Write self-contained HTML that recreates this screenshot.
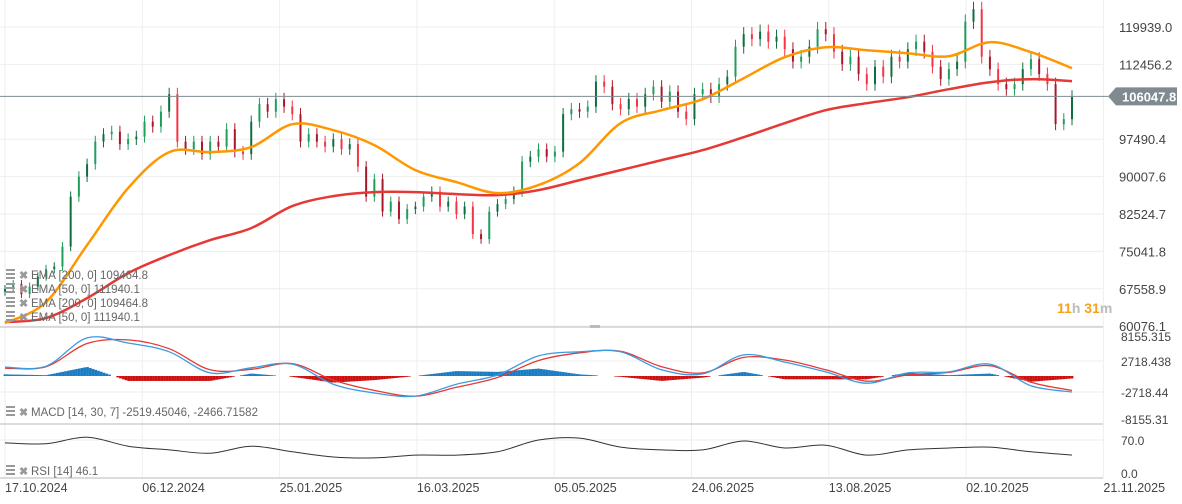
<!DOCTYPE html>
<html><head><meta charset="utf-8"><style>
body{margin:0;background:#fff;font-family:"Liberation Sans",sans-serif}
svg{display:block}
text{font-family:"Liberation Sans",sans-serif}
</style></head><body>
<svg id="c" width="1182" height="504"></svg>
<script>
const closes=[67.5,68.5,66.5,68,70,71.5,72,76,86,90,92.5,97,98.5,99,96.5,97.5,98,101,100,103,106.5,97,95.5,97,94.5,97,96,99.5,95,94.5,101,104.5,103,105.5,104,102.5,97,98.5,97,96,97.5,95.5,96.5,92,86,89.5,83,85,81.5,83.5,84,86,87,84,85,82.5,84,78.5,77.5,83,84.5,85.5,87,93,94,95.5,94,95,102.5,103.5,103,104,109,108,104.5,103.5,105.5,104,106.5,108,105,107,103,101.5,106.5,107.5,106,108.5,110,116,118.5,117.5,119,117,118,115.5,113,114,116,119.5,118.5,115,112.5,114,110.5,108.5,112,110,114,113,115.5,117,115,112,109.5,111.5,113,121,123.5,114,111.5,108.5,107.5,108.5,111.5,113.5,110.5,108.5,100.5,101.5,106];
const ema50=[60.7,64.9,76.3,87.7,94.9,94.9,95.9,100.5,99.3,96.3,91.3,88.9,86.7,88.3,92.7,100.7,103.3,105.5,109.7,113.9,115.9,115.3,114.7,114.1,116.9,114.9,111.7];
const ema200=[60.9,61.7,65.7,70.7,74.3,77.3,79.7,84.1,86.1,86.9,86.9,86.5,86.3,87.3,89.3,91.3,93.3,95.3,97.9,100.7,103.3,104.7,105.9,107.5,108.9,109.5,109.1];
const macd=[1.7,1.9,7.4,6.4,4.7,0.6,1.6,2.3,-1.6,-3.3,-3.9,-1.6,0.2,3.9,4.7,4.7,1.2,0.4,4.1,2.7,0.8,-1.4,0.6,0.8,2.3,-1.9,-3.1];
const signal=[1.5,1.8,6.3,7.0,5.3,1.2,1.3,2.4,-0.8,-2.8,-3.9,-2.2,-0.3,3.0,4.5,4.8,1.8,0.6,3.6,3.1,1.2,-1.0,0.2,0.7,2.0,-1.2,-2.8];
const rsi=[64,62,76,57,49,42,57,45,34,32,38,38,45,70,74,55,49,49,68,53,59,38,49,53,55,45,38];
const priceTicks=["119939.0","112456.2","97490.4","90007.6","82524.7","75041.8","67558.9","60076.1"];
const priceTickVals=[119.939,112.4562,97.4904,90.0076,82.5247,75.0418,67.5589,60.0761];
const dateLabels=["17.10.2024","06.12.2024","25.01.2025","16.03.2025","05.05.2025","24.06.2025","13.08.2025","02.10.2025","21.11.2025"];
const lastPrice=106.0478;

const NS="http://www.w3.org/2000/svg";
const svg=document.getElementById('c');
function el(t,a,p){const e=document.createElementNS(NS,t);for(const k in a)e.setAttribute(k,a[k]);(p||svg).appendChild(e);return e;}
const N=closes.length;
const xC=i=>5+i*(1067/(N-1));
const xS=j=>xC(j*5);
const yP=p=>27+(119.939-p)*4.998;
const yM=v=>376-v/0.194;
const yR=v=>473-v*0.471;
const xD=k=>5+k*137.3;

for(let k=0;k<priceTickVals.length;k++){
  const g=el('line',{x1:0,x2:1103,y1:yP(priceTickVals[k]),y2:yP(priceTickVals[k]),stroke:'#eeeeee'});
  
  
}
for(let k=0;k<dateLabels.length;k++){
  const g=el('line',{x1:xD(k),x2:xD(k),y1:0,y2:478,stroke:'#eeeeee'});
  
  
}
[361,392,440].forEach(y=>{const g=el('line',{x1:0,x2:1103,y1:y,y2:y,stroke:'#eeeeee'});
  
  });
[327,424,478].forEach(y=>{const g=el('line',{x1:0,x2:1103,y1:y,y2:y,stroke:'#d0d0d0','stroke-width':1.5});
  
  });
const hnd=el('rect',{x:590,y:325,width:10,height:3,fill:'#bbb'});



for(let i=0;i<N;i++){
  const c=closes[i],o=i?closes[i-1]:c-0.5;
  const hi=Math.max(o,c)*1.012,lo=Math.min(o,c)*0.988;
  const up=c>=o, col=up?(i%2?'#1f9e5c':'#0f6e3e'):(i%2?'#f23645':'#a8182a');
  const x=xC(i);
  const w=el('line',{x1:x,x2:x,y1:yP(hi),y2:yP(lo),stroke:col,'stroke-width':1});
  
  
  const b=el('rect',{x:x-1,y:yP(Math.max(o,c)),width:2,height:Math.max(1,yP(Math.min(o,c))-yP(Math.max(o,c))),fill:col});
  
  
}
function line(arr,xf,yf,col,w,name){
  const P=arr.map((v,j)=>[xf(j),yf(v)]);
  let d='M'+P[0][0].toFixed(1)+' '+P[0][1].toFixed(1);
  for(let j=0;j<P.length-1;j++){
    const p0=P[Math.max(0,j-1)],p1=P[j],p2=P[j+1],p3=P[Math.min(P.length-1,j+2)];
    const c1=[p1[0]+(p2[0]-p0[0])/6,p1[1]+(p2[1]-p0[1])/6];
    const c2=[p2[0]-(p3[0]-p1[0])/6,p2[1]-(p3[1]-p1[1])/6];
    d+=` C${c1[0].toFixed(1)} ${c1[1].toFixed(1)} ${c2[0].toFixed(1)} ${c2[1].toFixed(1)} ${p2[0].toFixed(1)} ${p2[1].toFixed(1)}`;
  }
  const p=el('path',{d:d,fill:'none',stroke:col,'stroke-width':w,'stroke-linejoin':'round'});
  
  
}
line(ema200,xS,yP,'#e53935',2.5,'ema-200-line');
line(ema50,xS,yP,'#ff9800',2.5,'ema-50-line');

const cp=el('line',{x1:0,x2:1108,y1:yP(lastPrice),y2:yP(lastPrice),stroke:'#7f8b90','stroke-width':1});


const tag=el('path',{d:`M1108 ${yP(lastPrice)} L1116 ${yP(lastPrice)-9} L1177 ${yP(lastPrice)-9} L1177 ${yP(lastPrice)+9} L1116 ${yP(lastPrice)+9} Z`,fill:'#7f8b90'});


const tt=el('text',{x:1122,y:yP(lastPrice)+5,fill:'#fff','font-size':13,'font-weight':'bold'});
tt.textContent=(lastPrice*1000).toFixed(1);



for(let k=0;k<priceTicks.length;k++){
  const t=el('text',{x:1119,y:yP(priceTickVals[k])+5,fill:'#444','font-size':13});
  t.textContent=priceTicks[k];
  
  
}
// MACD histogram (per ~2.75px slot)
const slots=Math.round(1067/2.75);
for(let s=0;s<=slots;s++){
  const f=s/slots*(macd.length-1), j=Math.min(Math.floor(f),macd.length-2), r=f-j;
  const h=((macd[j]-signal[j])*(1-r)+(macd[j+1]-signal[j+1])*r)*1.6;
  if(Math.abs(h)<0.1)continue;
  const y0=yM(0),y1=yM(h);
  const b=el('rect',{x:5+s*2.75-1.4,y:Math.min(y0,y1),width:2.8,height:Math.abs(y1-y0),fill:h>0?'#1a7dc4':'#cc1010'});
  
  
}
line(signal,xS,yM,'#e53935',1.3,'macd-signal-line');
line(macd,xS,yM,'#3a9be0',1.3,'macd-line');
line(rsi,xS,yR,'#333',1,'rsi-line');

[['8155.315',336],['2718.438',361],['-2718.44',392],['-8155.31',419],['70.0',440],['0.0',473]].forEach(a=>{
  const t=el('text',{x:1121,y:a[1]+5,fill:'#444','font-size':12});t.textContent=a[0];
  
  
});
for(let k=0;k<dateLabels.length;k++){
  const t=el('text',{x:xD(k),y:492,fill:'#444','font-size':12.5});t.textContent=dateLabels[k];
  
  
}
const tm=el('text',{x:1057,y:313,'font-size':14,'font-weight':'bold',fill:'#f7a21b'});
tm.innerHTML='11<tspan fill="#bbb">h</tspan> 31<tspan fill="#bbb">m</tspan>';



function legend(y,txt,name){
  const g=el('g',{});
  
  
  el('rect',{x:6,y:y-9,width:9,height:2,fill:'#999'},g);
  el('rect',{x:6,y:y-5,width:9,height:2,fill:'#999'},g);
  el('rect',{x:6,y:y-1,width:9,height:2,fill:'#999'},g);
  const x=el('text',{x:19,y:y+1,fill:'#999','font-size':11,'font-weight':'bold'},g);x.textContent='✖';
  const t=el('text',{x:31,y:y+1,fill:'#666','font-size':11.5},g);t.textContent=txt;
}
legend(278,'EMA  [200,  0]  109464.8','legend-ema-200');
legend(292,'EMA  [50,  0]  111940.1','legend-ema-50');
legend(306,'EMA  [200,  0]  109464.8','legend-ema-200-b');
legend(320,'EMA  [50,  0]  111940.1','legend-ema-50-b');
legend(415,'MACD  [14,  30,  7]  -2519.45046,   -2466.71582','legend-macd');
legend(474,'RSI  [14]  46.1','legend-rsi');
</script>
</body></html>
